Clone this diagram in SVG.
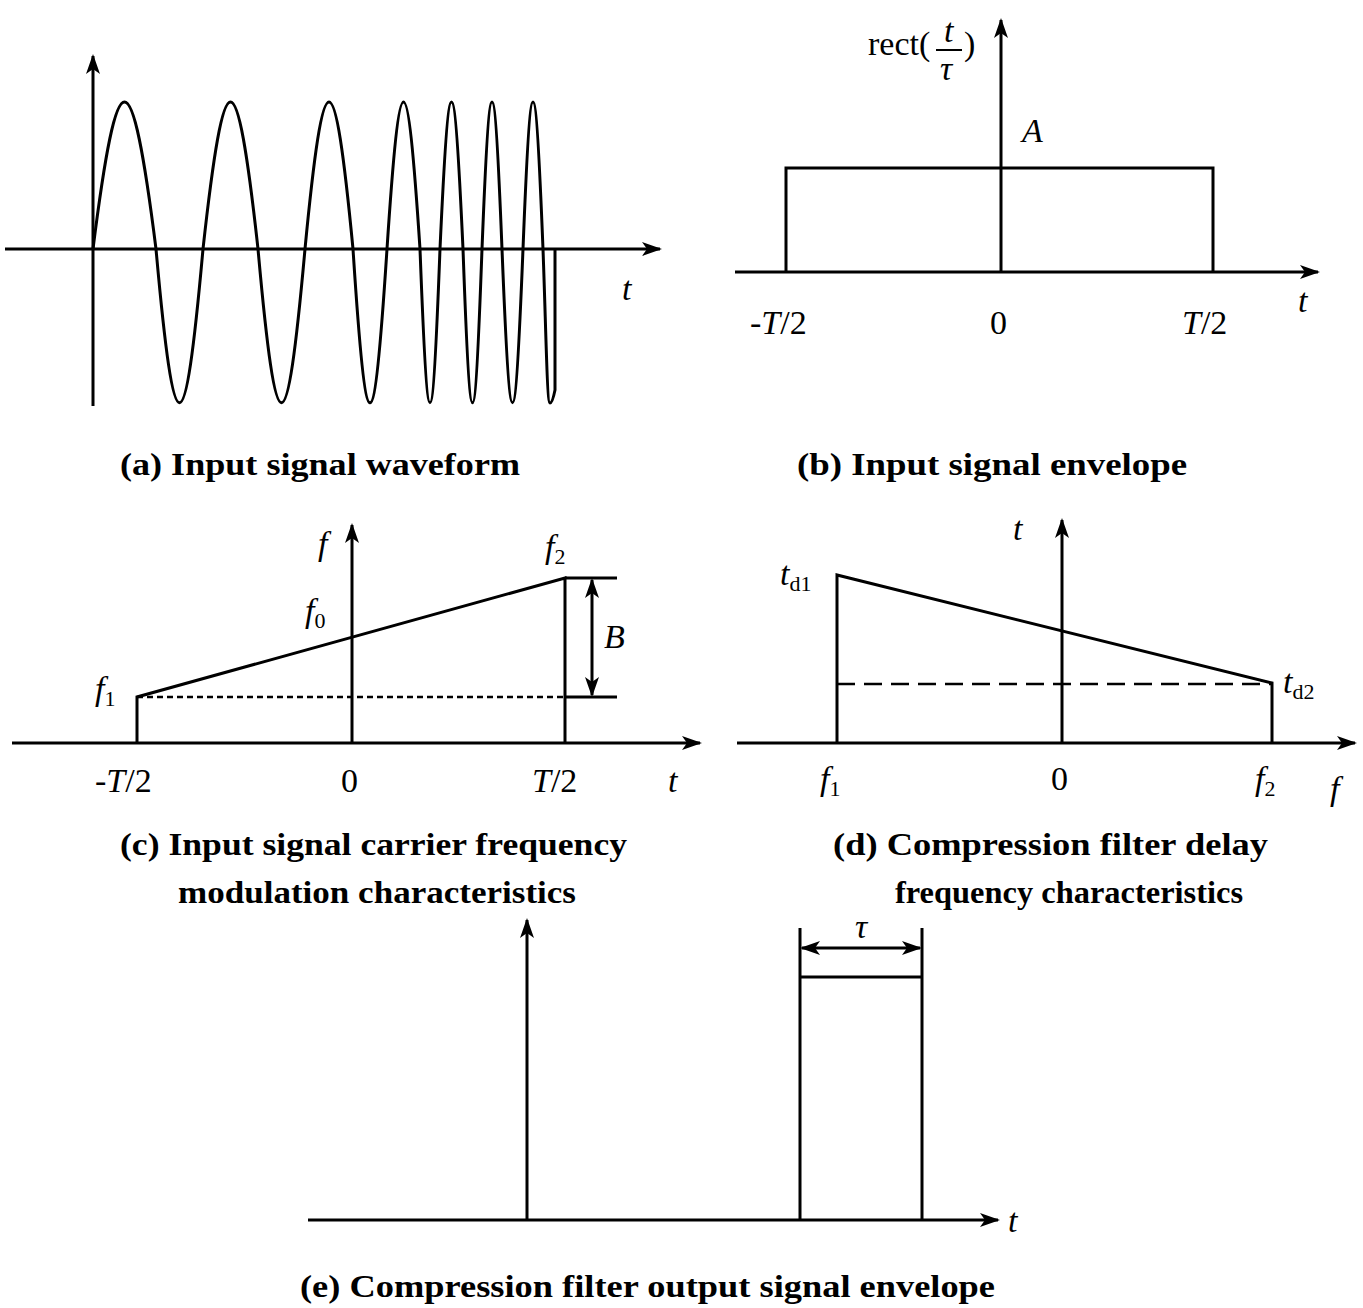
<svg xmlns="http://www.w3.org/2000/svg" width="1363" height="1308" viewBox="0 0 1363 1308">
<defs>
<marker id="ar" viewBox="0 0 20 14" refX="18" refY="7" markerWidth="20" markerHeight="14" markerUnits="userSpaceOnUse" orient="auto-start-reverse"><path d="M0,0 L20,7 L0,14 L5,7 Z" fill="#000"/></marker>
</defs>
<style>
.l{stroke:#000;stroke-width:3;fill:none}
.t{font-family:"Liberation Serif",serif;font-size:34px;fill:#000}
.i{font-style:italic}
.c{font-family:"Liberation Serif",serif;font-size:32px;font-weight:bold;fill:#000}
</style>
<rect width="1363" height="1308" fill="#fff"/>
<g id="panel-a">
<line class="l" x1="93" y1="406" x2="93" y2="56" marker-end="url(#ar)"/>
<line class="l" x1="5" y1="249" x2="660" y2="249" marker-end="url(#ar)"/>
<path class="l" d="M93,249 C117.6,53 131.4,53 156,249 C174.3,454 184.7,454 203,249 C224.5,53 236.5,53 258,249 C276.3,454 286.7,454 305,249 C323.7,53 334.3,53 353,249 C366.3,454 373.7,454 387,249 C399.9,53 407.1,53 420,249 C427.8,454 432.2,454 440,249 C449,53 454,53 463,249 C470.4,454 474.6,454 482,249 C489.8,53 494.2,53 502,249 C510.2,454 514.8,454 523,249 C530.8,53 535.2,53 543,249 C546,330 547,403 550,403 C552,403 554,395 555,390 L555,249"/>
<text class="t i" x="622" y="300">t</text>
<text class="c" x="120" y="475" textLength="400" lengthAdjust="spacingAndGlyphs">(a)  Input signal waveform</text>
</g>
<g id="panel-b">
<line class="l" x1="1001" y1="272" x2="1001" y2="20" marker-end="url(#ar)"/>
<line class="l" x1="735" y1="272" x2="1318" y2="272" marker-end="url(#ar)"/>
<polyline class="l" points="786,272 786,168 1213,168 1213,272"/>
<text class="t" x="868" y="55" font-size="28">rect(</text>
<text class="t i" x="944" y="42" font-size="26">t</text>
<line x1="936" y1="50" x2="962" y2="50" stroke="#000" stroke-width="2"/>
<text class="t i" x="940" y="80" font-size="26">τ</text>
<text class="t" x="964" y="55" font-size="28">)</text>
<text class="t i" x="1022" y="142">A</text>
<text class="t" x="750" y="334">-<tspan class="i">T</tspan>/2</text>
<text class="t" x="990" y="334">0</text>
<text class="t" x="1182" y="334"><tspan class="i">T</tspan>/2</text>
<text class="t i" x="1298" y="312">t</text>
<text class="c" x="797" y="475" textLength="390" lengthAdjust="spacingAndGlyphs">(b)  Input signal envelope</text>
</g>
<g id="panel-c">
<line class="l" x1="352" y1="743" x2="352" y2="525" marker-end="url(#ar)"/>
<line class="l" x1="12" y1="743" x2="700" y2="743" marker-end="url(#ar)"/>
<polyline class="l" points="137,743 137,697 565,578 565,743"/>
<line class="l" x1="565" y1="578" x2="617" y2="578"/>
<line class="l" x1="565" y1="697" x2="617" y2="697"/>
<line x1="137" y1="697" x2="565" y2="697" stroke="#000" stroke-width="2.5" stroke-dasharray="6,4"/>
<line class="l" x1="592" y1="580" x2="592" y2="695" marker-start="url(#ar)" marker-end="url(#ar)"/>
<text class="t i" x="95" y="700">f<tspan font-size="22" font-style="normal" dy="6">1</tspan></text>
<text class="t i" x="305" y="622">f<tspan font-size="22" font-style="normal" dy="6">0</tspan></text>
<text class="t i" x="545" y="558">f<tspan font-size="22" font-style="normal" dy="6">2</tspan></text>
<text class="t i" x="318" y="555">f</text>
<text class="t i" x="604" y="648">B</text>
<text class="t" x="95" y="792">-<tspan class="i">T</tspan>/2</text>
<text class="t" x="341" y="792">0</text>
<text class="t" x="532" y="792"><tspan class="i">T</tspan>/2</text>
<text class="t i" x="668" y="792">t</text>
<text class="c" x="120" y="855" textLength="507" lengthAdjust="spacingAndGlyphs">(c)  Input signal carrier frequency</text>
<text class="c" x="178" y="903" textLength="398" lengthAdjust="spacingAndGlyphs">modulation characteristics</text>
</g>
<g id="panel-d">
<line class="l" x1="1062" y1="743" x2="1062" y2="520" marker-end="url(#ar)"/>
<line class="l" x1="737" y1="743" x2="1355" y2="743" marker-end="url(#ar)"/>
<polyline class="l" points="837,743 837,575 1272,683 1272,743"/>
<line x1="837" y1="684" x2="1272" y2="684" stroke="#000" stroke-width="2.5" stroke-dasharray="18,9"/>
<text class="t i" x="780" y="585">t<tspan font-size="22" font-style="normal" dy="6">d1</tspan></text>
<text class="t i" x="1283" y="693">t<tspan font-size="22" font-style="normal" dy="6">d2</tspan></text>
<text class="t i" x="1013" y="540">t</text>
<text class="t i" x="820" y="790">f<tspan font-size="22" font-style="normal" dy="6">1</tspan></text>
<text class="t" x="1051" y="790">0</text>
<text class="t i" x="1255" y="790">f<tspan font-size="22" font-style="normal" dy="6">2</tspan></text>
<text class="t i" x="1330" y="800">f</text>
<text class="c" x="833" y="855" textLength="435" lengthAdjust="spacingAndGlyphs">(d)  Compression filter delay</text>
<text class="c" x="895" y="903" textLength="348" lengthAdjust="spacingAndGlyphs">frequency characteristics</text>
</g>
<g id="panel-e">
<line class="l" x1="308" y1="1220" x2="998" y2="1220" marker-end="url(#ar)"/>
<line class="l" x1="527" y1="1220" x2="527" y2="920" marker-end="url(#ar)"/>
<line class="l" x1="800" y1="1220" x2="800" y2="928"/>
<line class="l" x1="922" y1="1220" x2="922" y2="928"/>
<line class="l" x1="800" y1="977" x2="922" y2="977"/>
<line class="l" x1="802" y1="948" x2="920" y2="948" marker-start="url(#ar)" marker-end="url(#ar)"/>
<text class="t i" x="855" y="938">τ</text>
<text class="t i" x="1008" y="1232">t</text>
<text class="c" x="300" y="1297" textLength="695" lengthAdjust="spacingAndGlyphs">(e)  Compression filter output signal envelope</text>
</g>
</svg>
